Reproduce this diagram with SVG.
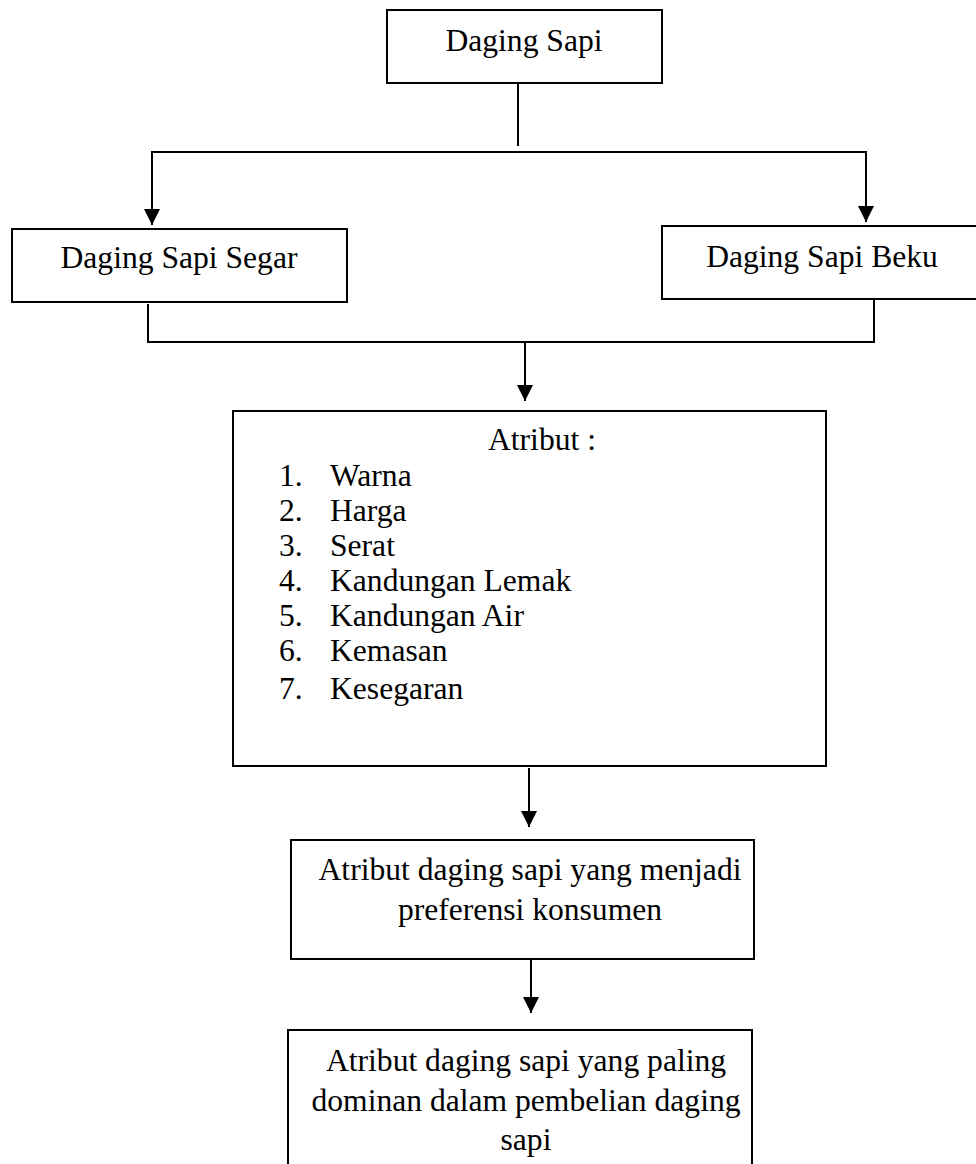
<svg xmlns="http://www.w3.org/2000/svg" width="976" height="1164" viewBox="0 0 976 1164">
<style>
  .box { fill: #ffffff; stroke: #000000; stroke-width: 2; }
  .ln { fill: none; stroke: #000000; stroke-width: 2; }
  .t { font-family: "Liberation Serif", "Times New Roman", serif; font-size: 31.6px; fill: #000000; }
  .c { text-anchor: middle; }
</style>
<defs>
  <marker id="arr" viewBox="0 0 16 16" refX="16" refY="8" markerWidth="16" markerHeight="16" markerUnits="userSpaceOnUse" orient="auto">
    <path d="M0,0 L16,8 L0,16 z" fill="#000000"/>
  </marker>
</defs>
<rect width="976" height="1164" fill="#ffffff"/>

<g id="connectors">
  <line class="ln" x1="518" y1="83" x2="518" y2="146"/>
  <line class="ln" x1="151" y1="152" x2="867" y2="152"/>
  <line class="ln" x1="152" y1="151" x2="152" y2="225" marker-end="url(#arr)"/>
  <line class="ln" x1="866" y1="151" x2="866" y2="222" marker-end="url(#arr)"/>
  <line class="ln" x1="148" y1="304" x2="148" y2="343"/>
  <line class="ln" x1="147" y1="342" x2="875" y2="342"/>
  <line class="ln" x1="874" y1="300" x2="874" y2="343"/>
  <line class="ln" x1="525" y1="342" x2="525" y2="401" marker-end="url(#arr)"/>
  <line class="ln" x1="529" y1="768" x2="529" y2="827" marker-end="url(#arr)"/>
  <line class="ln" x1="531" y1="960" x2="531" y2="1013" marker-end="url(#arr)"/>
</g>

<g id="node-daging-sapi">
  <rect class="box" x="387" y="10" width="275" height="73"/>
  <text class="t c" x="524" y="51">Daging Sapi</text>
</g>

<g id="node-segar">
  <rect class="box" x="12" y="229" width="335" height="73"/>
  <text class="t c" x="179" y="268">Daging Sapi Segar</text>
</g>

<g id="node-beku">
  <rect class="box" x="662" y="226" width="320" height="73"/>
  <text class="t c" x="822" y="267">Daging Sapi Beku</text>
</g>

<g id="node-atribut">
  <rect class="box" x="233" y="411" width="593" height="355"/>
  <text class="t" x="488" y="450">Atribut :</text>
  <text class="t" x="279" y="486">1.</text><text class="t" x="330" y="486">Warna</text>
  <text class="t" x="279" y="521">2.</text><text class="t" x="330" y="521">Harga</text>
  <text class="t" x="279" y="556">3.</text><text class="t" x="330" y="556">Serat</text>
  <text class="t" x="279" y="591">4.</text><text class="t" x="330" y="591">Kandungan Lemak</text>
  <text class="t" x="279" y="626">5.</text><text class="t" x="330" y="626">Kandungan Air</text>
  <text class="t" x="279" y="661">6.</text><text class="t" x="330" y="661">Kemasan</text>
  <text class="t" x="279" y="699">7.</text><text class="t" x="330" y="699">Kesegaran</text>
</g>

<g id="node-preferensi">
  <rect class="box" x="291" y="840" width="463" height="119"/>
  <text class="t c" x="530" y="880">Atribut daging sapi yang menjadi</text>
  <text class="t c" x="530" y="920">preferensi konsumen</text>
</g>

<g id="node-dominan">
  <rect class="box" x="288" y="1030" width="464" height="160"/>
  <text class="t c" x="526" y="1071">Atribut daging sapi yang paling</text>
  <text class="t c" x="526" y="1111">dominan dalam pembelian daging</text>
  <text class="t c" x="526" y="1150">sapi</text>
</g>
</svg>
